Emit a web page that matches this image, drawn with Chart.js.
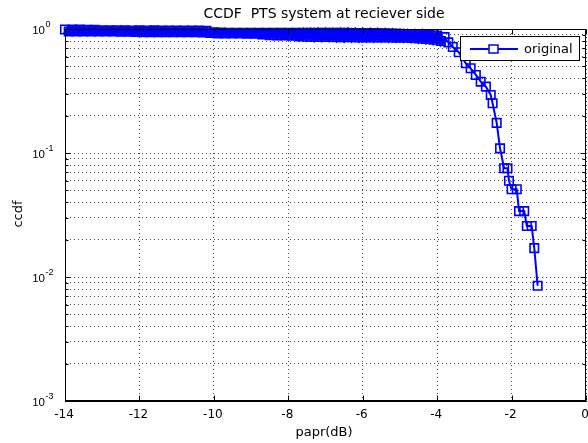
<!DOCTYPE html>
<html>
<head>
<meta charset="utf-8">
<script src="https://cdn.jsdelivr.net/npm/chart.js@4.4.1/dist/chart.umd.min.js"></script>
<style>
  body { margin: 0; background: #fff; }
  canvas { display: block; }
</style>
</head>
<body>
<canvas id="ccdfChart" width="588" height="443"></canvas>
<script>
  // papr (dB) and ccdf, left to right
  var papr = [
    -14.0, -13.9, -13.8, -13.7, -13.6, -13.5, -13.4, -13.3, -13.2, -13.1,
    -13.0, -12.9, -12.8, -12.7, -12.6, -12.5, -12.4, -12.3, -12.2, -12.1,
    -12.0, -11.9, -11.8, -11.7, -11.6, -11.5, -11.4, -11.3, -11.2, -11.1,
    -11.0, -10.9, -10.8, -10.7, -10.6, -10.5, -10.4, -10.3, -10.2, -10.1,
    -10.0, -9.9, -9.8, -9.7, -9.6, -9.5, -9.4, -9.3, -9.2, -9.1,
    -9.0, -8.9, -8.8, -8.7, -8.6, -8.5, -8.4, -8.3, -8.2, -8.1,
    -8.0, -7.9, -7.8, -7.7, -7.6, -7.5, -7.4, -7.3, -7.2, -7.1,
    -7.0, -6.9, -6.8, -6.7, -6.6, -6.5, -6.4, -6.3, -6.2, -6.1,
    -6.0, -5.9, -5.8, -5.7, -5.6, -5.5, -5.4, -5.3, -5.2, -5.1,
    -5.0, -4.9, -4.8, -4.7, -4.6, -4.5, -4.4, -4.3, -4.2, -4.1,
    -4.0, -3.9, -3.8, -3.7, -3.58, -3.42, -3.23, -3.10, -2.96, -2.83,
    -2.69, -2.56, -2.51, -2.40, -2.31, -2.20, -2.11, -2.07, -2.00, -1.86,
    -1.80, -1.66, -1.59, -1.46, -1.39, -1.30
  ];
  var ccdf = [
    0.990, 0.955, 0.990, 0.956, 0.988, 0.955, 0.987, 0.957, 0.985, 0.955,
    0.976, 0.955, 0.975, 0.954, 0.976, 0.953, 0.975, 0.952, 0.974, 0.948,
    0.975, 0.944, 0.974, 0.943, 0.975, 0.942, 0.973, 0.943, 0.972, 0.942,
    0.973, 0.941, 0.972, 0.942, 0.971, 0.940, 0.972, 0.938, 0.968, 0.930,
    0.940, 0.921, 0.935, 0.920, 0.934, 0.920, 0.933, 0.919, 0.933, 0.918,
    0.934, 0.917, 0.933, 0.905, 0.932, 0.890, 0.933, 0.887, 0.932, 0.886,
    0.932, 0.884, 0.931, 0.872, 0.932, 0.866, 0.931, 0.863, 0.932, 0.862,
    0.931, 0.861, 0.930, 0.860, 0.931, 0.858, 0.930, 0.857, 0.929, 0.856,
    0.928, 0.856, 0.927, 0.855, 0.926, 0.855, 0.924, 0.854, 0.920, 0.852,
    0.915, 0.850, 0.912, 0.845, 0.908, 0.838, 0.905, 0.830, 0.895, 0.820,
    0.885, 0.800, 0.860, 0.780, 0.716, 0.650, 0.529, 0.482, 0.426, 0.376,
    0.343, 0.294, 0.252, 0.175, 0.109, 0.0753, 0.0753, 0.0598, 0.051, 0.051,
    0.034, 0.034, 0.0258, 0.0258, 0.0171, 0.0085
  ];

  var xTicks = [-14, -12, -10, -8, -6, -4, -2, 0];
  var yDecades = [0.001, 0.01, 0.1, 1];
  var yDecadeLabels = ["-3", "-2", "-1", "0"];
  var titleText = "CCDF  PTS system at reciever side";
  var xLabel = "papr(dB)";
  var yLabel = "ccdf";
  var seriesName = "original";

  var blue = "#0000ff";
  var font = "'DejaVu Sans', sans-serif";
  var tickFont = "'Liberation Sans', Arial, sans-serif";
  var denseUntil = 102; // the overplotted markers up to -3.8 dB merge into a solid band

  // log grid: 1..9 within each decade
  var yGrid = [];
  yDecades.forEach(function (d, i) {
    if (i === yDecades.length - 1) { yGrid.push(d); return; }
    for (var k = 1; k < 10; k++) yGrid.push(d * k);
  });

  var points = papr.map(function (x, i) { return { x: x, y: ccdf[i] }; });

  // axes box, tick marks, labels and legend drawn the MATLAB way
  var matlabAxes = {
    id: "matlabAxes",
    afterDraw: function (chart) {
      var c = chart.ctx, a = chart.chartArea;
      var xs = chart.scales.x, ys = chart.scales.y;
      var L = Math.round(a.left) + 0.5, R = Math.round(a.right) - 0.5;
      var T = Math.round(a.top) + 0.5, B = Math.round(a.bottom) - 0.5;
      c.save();
      c.strokeStyle = "#000";
      c.lineWidth = 1;
      c.setLineDash([]);
      c.beginPath();
      xTicks.forEach(function (v) {
        var px = Math.round(xs.getPixelForValue(v)) + 0.5;
        c.moveTo(px, B); c.lineTo(px, B - 5);
        c.moveTo(px, T); c.lineTo(px, T + 5);
      });
      yGrid.forEach(function (v) {
        var py = Math.round(ys.getPixelForValue(v)) + 0.5;
        var len = yDecades.indexOf(v) >= 0 ? 5 : 3;
        c.moveTo(L, py); c.lineTo(L + len, py);
        c.moveTo(R, py); c.lineTo(R - len, py);
      });
      c.stroke();
      c.strokeRect(L, T, R - L, B - T);

      // x tick labels
      c.fillStyle = "#000";
      c.font = "12px " + font;
      c.textAlign = "center";
      c.textBaseline = "alphabetic";
      xTicks.forEach(function (v) {
        c.fillText(String(v), xs.getPixelForValue(v) - 1, a.bottom + 17);
      });

      // y tick labels 10^n
      yDecades.forEach(function (v, i) {
        var py = ys.getPixelForValue(v);
        c.font = "11.5px " + tickFont;
        c.textAlign = "right";
        c.fillText("10", 45, py + 5);
        c.font = "9px " + tickFont;
        c.textAlign = "left";
        c.fillText(yDecadeLabels[i], 45.5, py - 2);
      });

      // title and axis labels
      c.textAlign = "center";
      c.font = "14px " + font;
      c.fillText(titleText, 324, 18);
      c.font = "13px " + font;
      c.fillText(xLabel, 324, a.bottom + 35);
      c.save();
      c.translate(22, 214);
      c.rotate(-Math.PI / 2);
      c.fillText(yLabel, 0, 0);
      c.restore();

      // legend
      c.fillStyle = "#fff";
      c.fillRect(460.5, 36.5, 119, 24);
      c.strokeStyle = "#000";
      c.strokeRect(460.5, 36.5, 119, 24);
      c.strokeStyle = blue;
      c.lineWidth = 2;
      c.beginPath();
      c.moveTo(470, 49); c.lineTo(518, 49);
      c.stroke();
      c.lineWidth = 1.5;
      c.fillStyle = "#fff";
      c.fillRect(489, 45, 9, 8);
      c.strokeRect(489, 45, 9, 8);
      c.fillStyle = "#000";
      c.font = "13px " + font;
      c.textAlign = "left";
      c.fillText(seriesName, 524, 53);
      c.restore();
    }
  };

  var ctx = document.getElementById("ccdfChart").getContext("2d");
  var chart1 = new Chart(ctx, {
    type: "line",
    data: {
      datasets: [
        {
          label: seriesName,
          data: points,
          borderColor: blue,
          borderWidth: 2,
          tension: 0,
          pointStyle: "rect",
          pointRadius: 6,
          pointBorderWidth: 1.6,
          pointBorderColor: blue,
          pointBackgroundColor: "rgba(255,255,255,0)",
          clip: false,
          segment: {
            borderWidth: function (s) { return s.p1DataIndex <= denseUntil ? 8 : 2; },
          },
        },
      ],
    },
    options: {
      responsive: false,
      animation: false,
      events: [],
      layout: { autoPadding: false, padding: { left: 65, right: 2, top: 29, bottom: 42 } },
      plugins: {
        legend: { display: false },
        title: { display: false },
        tooltip: { enabled: false },
      },
      scales: {
        x: {
          type: "linear",
          min: -14,
          max: 0,
          ticks: { display: false, stepSize: 2 },
          grid: { color: "rgba(0,0,0,0.7)", drawTicks: false, lineWidth: 1 },
          border: { display: true, dash: [1, 3], color: "#000" },
        },
        y: {
          type: "logarithmic",
          min: 0.001,
          max: 1,
          afterBuildTicks: function (scale) {
            scale.ticks = yGrid.map(function (v) { return { value: v }; });
          },
          ticks: { display: false },
          grid: { color: "rgba(0,0,0,0.7)", drawTicks: false, lineWidth: 1 },
          border: { display: true, dash: [1, 3], color: "#000" },
        },
      },
    },
    plugins: [matlabAxes],
  });
</script>
</body>
</html>
